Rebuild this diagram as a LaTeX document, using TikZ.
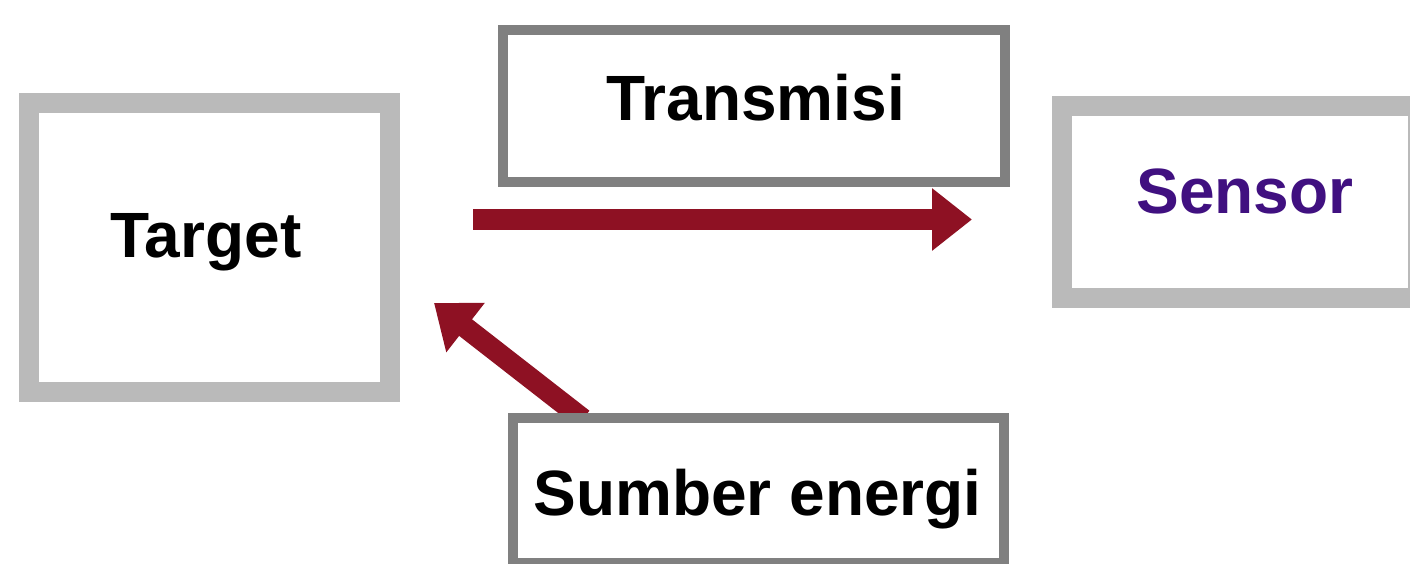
\documentclass[tikz,border=0pt]{standalone}
\usepackage{fontspec}
\setmainfont{Liberation Sans}
\usetikzlibrary{arrows.meta}
\definecolor{lightborder}{RGB}{186,186,186}
\definecolor{darkborder}{RGB}{128,128,128}
\definecolor{arrowred}{RGB}{142,17,35}
\definecolor{sensorpurple}{RGB}{64,16,128}
\begin{document}
\begin{tikzpicture}[x=1pt,y=-1pt,
  box/.style={draw, fill=white, inner sep=0pt, rectangle},
  thickbox/.style={box, draw=lightborder, line width=20pt},
  thinbox/.style={box, draw=darkborder, line width=10pt},
  txt/.style={anchor=base, inner sep=0pt, font=\fontsize{64}{68}\selectfont\bfseries},
  flow/.style={draw=arrowred, line width=21pt, -{Triangle[length=40pt,width=60pt]}}
]
\clip (0,0) rectangle (1410,563);
\fill[white] (0,0) rectangle (1410,563);

% boxes
\node[thickbox, minimum width=361pt, minimum height=289pt] (target) at (209.5,247.5) {};
\node[txt] (targettxt) at (206,257) {Target};

\node[thinbox, minimum width=502pt, minimum height=152pt] (transmisi) at (754,105.5) {};
\node[txt] (transmisitxt) at (755.5,120) {Transmisi};

\node[thickbox, minimum width=356pt, minimum height=192.5pt] (sensor) at (1240,201.75) {};
\node[txt, text=sensorpurple] (sensortxt) at (1245,213) {Sensor};

% arrows
\coordinate (a1s) at (473,219.5);
\coordinate (a1e) at (972,219.5);
\draw[flow] (a1s) -- (a1e);

\coordinate (a2s) at (583,419);
\coordinate (a2e) at (434,303);
\draw[flow] (a2s) -- (a2e);

\node[thinbox, minimum width=490.5pt, minimum height=145pt] (sumber) at (758.25,490.5) {};
\node[txt] (sumbertxt) at (757.5,515) {Sumber energi};
\end{tikzpicture}
\end{document}
